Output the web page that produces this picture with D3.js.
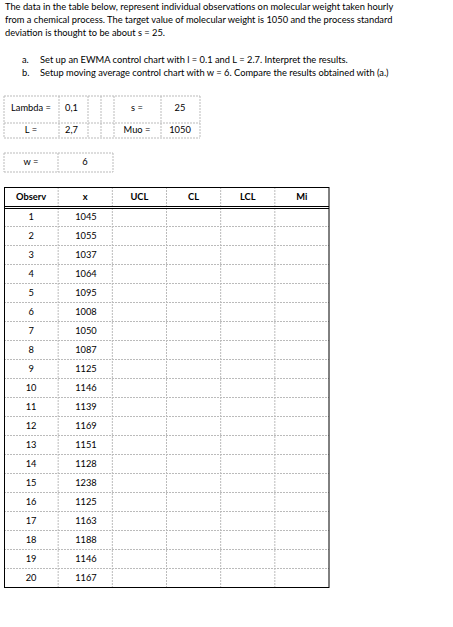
<!DOCTYPE html>
<html><head><meta charset="utf-8">
<script src="https://cdn.jsdelivr.net/npm/d3@7"></script>
<style>body{margin:0;background:#fff}text{font-family:Lato,"Open Sans",sans-serif;font-size:9.3px;fill:#000}</style>
</head><body><div id="chart"></div>
<script>
const intro = [
  "The data in the table below, represent individual observations on molecular weight taken hourly",
  "from a chemical process. The target value of molecular weight is 1050 and the process standard",
  "deviation is thought to be about s = 25."
];
const tasks = [
  ["a.", "Set up an EWMA control chart with l = 0.1 and L = 2.7. Interpret the results."],
  ["b.", "Setup moving average control chart with w = 6. Compare the results obtained with (a.)"]
];
const headers = ["Observ", "x", "UCL", "CL", "LCL", "Mi"];
const observ = d3.range(1, 21);
const xvals = [1045,1055,1037,1064,1095,1008,1050,1087,1125,1146,1139,1169,1151,1128,1238,1125,1163,1188,1146,1167];

const svg = d3.select("#chart").append("svg").attr("width", 453).attr("height", 627);
const dash = "#bbb";

svg.selectAll("text.intro").data(intro).join("text").attr("class","intro")
  .attr("x", 5).attr("y", (d, i) => 10 + i * 13).text(d => d);
tasks.forEach((t, i) => {
  svg.append("text").attr("x", 22).attr("y", 63 + i * 13).text(t[0]);
  svg.append("text").attr("x", 40).attr("y", 63 + i * 13).text(t[1]);
});

// parameter box
function cellLine(x1, y1, x2, y2) {
  svg.append("line").attr("x1", x1).attr("y1", y1).attr("x2", x2).attr("y2", y2)
    .attr("stroke", dash).attr("stroke-dasharray", "2,1");
}
const pc = [4, 59, 88, 101, 114, 161, 200];
const pr = [96, 123, 138];
pr.forEach(y => cellLine(4, y, 200, y));
pc.forEach(x => cellLine(x, 96, x, 138));
const params = [["Lambda =", "0,1", "s =", "25"], ["L =", "2,7", "Muo =", "1050"]];
params.forEach((r, i) => {
  const y = i ? 133 : 111;
  svg.append("text").attr("x", 31).attr("y", y).attr("text-anchor", "middle").text(r[0]);
  svg.append("text").attr("x", 65).attr("y", y).text(r[1]);
  svg.append("text").attr("x", 137).attr("y", y).attr("text-anchor", "middle").text(r[2]);
  svg.append("text").attr("x", 180).attr("y", y).attr("text-anchor", "middle").text(r[3]);
});
[153, 172].forEach(y => cellLine(4, y, 113, y));
[4, 58, 113].forEach(x => cellLine(x, 153, x, 172));
svg.append("text").attr("x", 31).attr("y", 165).attr("text-anchor", "middle").text("w =");
svg.append("text").attr("x", 85).attr("y", 165).attr("text-anchor", "middle").text("6");

// main table
const xs = d3.scaleBand().domain(headers).range([4, 329]);
const ys = d3.scaleBand().domain(observ).range([207.5, 587.5]);
observ.forEach(o => cellLine(4, ys(o) + ys.bandwidth(), 329, ys(o) + ys.bandwidth()));
headers.slice(1).forEach(h => cellLine(xs(h), 187, xs(h), 587.5));
svg.append("rect").attr("x", 4.5).attr("y", 187.5).attr("width", 324.5).attr("height", 400)
  .attr("fill", "none").attr("stroke", "#000");
svg.append("line").attr("x1", 4).attr("x2", 329).attr("y1", 206.5).attr("y2", 206.5).attr("stroke", "#000");
svg.append("line").attr("x1", 4).attr("x2", 329).attr("y1", 208.5).attr("y2", 208.5).attr("stroke", "#000");
svg.selectAll("text.h").data(headers).join("text").attr("class","h")
  .attr("x", d => xs(d) + xs.bandwidth() / 2).attr("y", 200).attr("text-anchor", "middle")
  .attr("font-weight", "bold").text(d => d);
svg.selectAll("text.o").data(observ).join("text").attr("class","o")
  .attr("x", xs("Observ") + xs.bandwidth() / 2).attr("y", d => ys(d) + 12.5).attr("text-anchor", "middle").text(d => d);
svg.selectAll("text.v").data(xvals).join("text").attr("class","v")
  .attr("x", xs("x") + 17).attr("y", (d, i) => ys(observ[i]) + 12.5).text(d => d);
</script></body></html>
